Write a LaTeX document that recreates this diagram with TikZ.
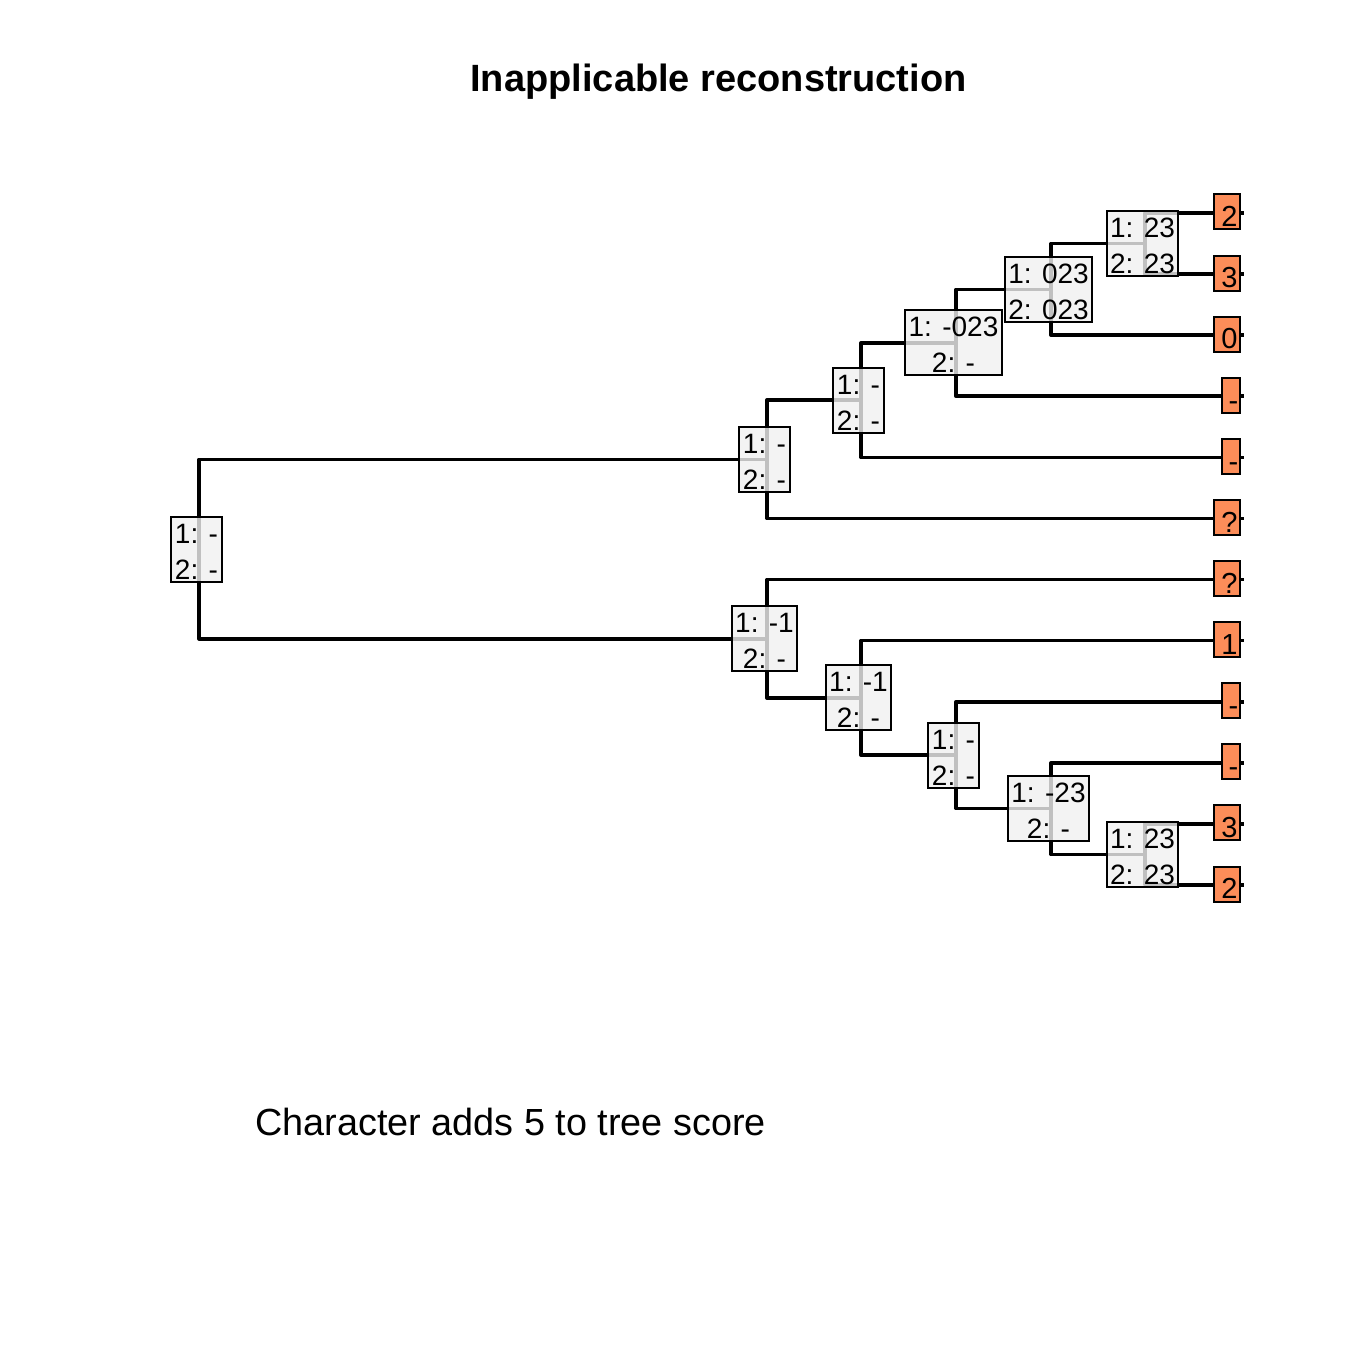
\documentclass[tikz,border=0pt]{standalone}
\usepackage{fontspec}
\setmainfont{Liberation Sans}
\definecolor{tipfill}{HTML}{FC8D59}
\definecolor{boxfill}{HTML}{F0F0F0}
\begin{document}
\begin{tikzpicture}[x=0.5pt,y=-0.5pt,
  edge/.style={line width=1.8pt, line join=round},
  ibox/.style={draw, line width=1pt, fill=boxfill, fill opacity=0.8, text opacity=1, draw opacity=1,
    align=center, inner xsep=1.75pt, inner ysep=1.25pt, font=\fontsize{14pt}{18pt}\selectfont, xshift=-1.25pt},
  tipbox/.style={draw, line width=1pt, fill=tipfill, anchor=east, inner xsep=0.5pt, inner ysep=1.4pt,
    text height=14.7pt, text depth=0pt, font=\fontsize{14.5pt}{16pt}\selectfont},
  wide/.style={minimum width=13pt},
  narrow/.style={minimum width=9pt}]
\useasboundingbox[fill=white] (0,0) rectangle (1363,1363);
% title and footer
\node[font=\fontsize{19pt}{22pt}\selectfont\bfseries, anchor=base, inner sep=0pt] (title) at (718.5,92) {Inapplicable reconstruction};
\node[font=\fontsize{18.9pt}{22pt}\selectfont, anchor=base west, inner sep=0pt] (score) at (255,1135) {Character adds 5 to tree score};
% tree node positions
\coordinate (nR) at (199,549);
\coordinate (nA) at (767,459.3);
\coordinate (nB) at (861,400.1);
\coordinate (nC) at (956,342.8);
\coordinate (nD) at (1051,289.4);
\coordinate (nE) at (1145,243.5);
\coordinate (nF) at (767,638.7);
\coordinate (nG) at (861,697.9);
\coordinate (nH) at (956,755.2);
\coordinate (nI) at (1051,808.6);
\coordinate (nJ) at (1145,854.5);
% tip line ends
\coordinate (p1) at (1244,213.0);
\coordinate (p2) at (1244,274.1);
\coordinate (p3) at (1244,335.2);
\coordinate (p4) at (1244,396.3);
\coordinate (p5) at (1244,457.4);
\coordinate (p6) at (1244,518.5);
\coordinate (p7) at (1244,579.5);
\coordinate (p8) at (1244,640.6);
\coordinate (p9) at (1244,701.7);
\coordinate (p10) at (1244,762.8);
\coordinate (p11) at (1244,823.9);
\coordinate (p12) at (1244,885.0);
% edges
\draw[edge] (nR) |- (nA);
\draw[edge] (nR) |- (nF);
\draw[edge] (nA) |- (nB);
\draw[edge] (nA) |- (p6);
\draw[edge] (nB) |- (nC);
\draw[edge] (nB) |- (p5);
\draw[edge] (nC) |- (nD);
\draw[edge] (nC) |- (p4);
\draw[edge] (nD) |- (nE);
\draw[edge] (nD) |- (p3);
\draw[edge] (nE) |- (p1);
\draw[edge] (nE) |- (p2);
\draw[edge] (nF) |- (p7);
\draw[edge] (nF) |- (nG);
\draw[edge] (nG) |- (p8);
\draw[edge] (nG) |- (nH);
\draw[edge] (nH) |- (p9);
\draw[edge] (nH) |- (nI);
\draw[edge] (nI) |- (p10);
\draw[edge] (nI) |- (nJ);
\draw[edge] (nJ) |- (p11);
\draw[edge] (nJ) |- (p12);
% internal state boxes
\node[ibox] (bR) at (nR) {\rule{0pt}{12pt}1: -\\2: -};
\node[ibox] (bA) at (nA) {\rule{0pt}{12pt}1: -\\2: -};
\node[ibox] (bB) at (nB) {\rule{0pt}{12pt}1: -\\2: -};
\node[ibox] (bC) at (nC) {\rule{0pt}{12pt}1: -023\\2: -};
\node[ibox] (bD) at (nD) {\rule{0pt}{12pt}1: 023\\2: 023};
\node[ibox] (bE) at (nE) {\rule{0pt}{12pt}1: 23\\2: 23};
\node[ibox] (bF) at (nF) {\rule{0pt}{12pt}1: -1\\2: -};
\node[ibox] (bG) at (nG) {\rule{0pt}{12pt}1: -1\\2: -};
\node[ibox] (bH) at (nH) {\rule{0pt}{12pt}1: -\\2: -};
\node[ibox] (bI) at (nI) {\rule{0pt}{12pt}1: -23\\2: -};
\node[ibox] (bJ) at (nJ) {\rule{0pt}{12pt}1: 23\\2: 23};
% tip labels
\node[tipbox, wide] (t1) at (1241,212.0) {\hspace{2.5pt}2};
\node[tipbox, wide] (t2) at (1241,273.1) {\hspace{2.5pt}3};
\node[tipbox, wide] (t3) at (1241,334.2) {\hspace{2.5pt}0};
\node[tipbox, narrow] (t4) at (1241,395.3) {\hspace{2.5pt}-};
\node[tipbox, narrow] (t5) at (1241,456.4) {\hspace{2.5pt}-};
\node[tipbox, wide] (t6) at (1241,517.5) {\hspace{2.5pt}?};
\node[tipbox, wide] (t7) at (1241,578.5) {\hspace{2.5pt}?};
\node[tipbox, wide] (t8) at (1241,639.6) {\hspace{2.5pt}1};
\node[tipbox, narrow] (t9) at (1241,700.7) {\hspace{2.5pt}-};
\node[tipbox, narrow] (t10) at (1241,761.8) {\hspace{2.5pt}-};
\node[tipbox, wide] (t11) at (1241,822.9) {\hspace{2.5pt}3};
\node[tipbox, wide] (t12) at (1241,884.0) {\hspace{2.5pt}2};
\end{tikzpicture}
\end{document}
